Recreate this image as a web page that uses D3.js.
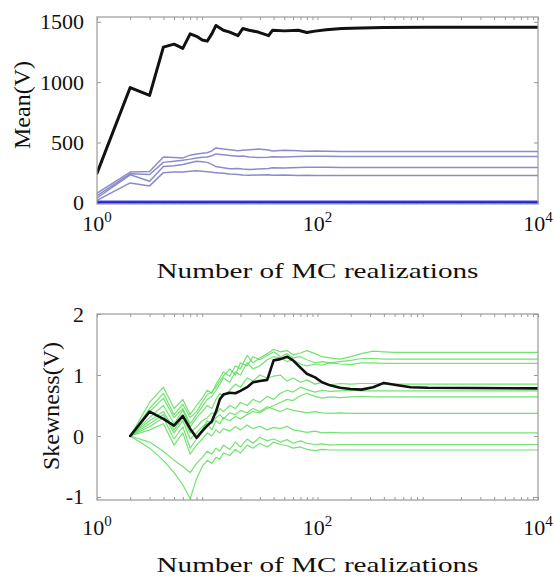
<!DOCTYPE html>
<html><head><meta charset="utf-8">
<script src="https://cdn.jsdelivr.net/npm/d3@7"></script>
<style>
body{margin:0;background:#fff}
svg{display:block}
text{font-family:"Liberation Serif","Times New Roman",serif;fill:#111}
</style>
</head><body>
<svg id="c" width="555" height="578"></svg>
<script>
// ---------- Top panel: Mean(V) ----------
const meanN = [1,2,3,4,5,6,7,8,9,10,11,12,14,16,19,21,24,29,36,39,50,67,80,95,120,166,250,400,1000,3000,10000];
const meanBlack = [245,955,890,1290,1315,1280,1400,1380,1350,1340,1400,1470,1430,1415,1385,1445,1430,1415,1385,1430,1425,1430,1412,1423,1435,1445,1448,1452,1455,1455,1455];
const meanP1 = [80,255,260,380,375,372,395,405,410,415,430,455,445,440,432,435,440,445,438,430,435,432,428,430,428,425,425,425,425,425,425];
const meanP2 = [60,240,235,335,345,352,362,372,378,380,390,405,398,392,385,388,380,376,378,382,380,384,385,386,385,384,384,384,384,384,384];
const meanP3 = [40,232,178,300,308,318,332,345,340,335,318,300,290,282,285,280,275,280,285,290,288,292,294,295,294,293,293,293,293,293,293];
const meanP4 = [20,165,140,250,255,256,262,266,262,258,254,250,244,238,235,230,228,230,232,228,230,226,228,227,226,226,226,226,226,226,226];
const meanB1 = [6,6,6,7,7,7,7,7,7,7,7,7,7,7,7,7,7,7,7,7,7,7,7,7,7,7,7,7,7,7,7];
const meanB2 = [10,10,10,10,10,10,10,10,10,10,10,10,10,10,10,10,10,10,10,10,10,10,10,10,10,10,10,10,10,10,10];
const meanB3 = [3,3,3,3,3,3,3,3,3,3,3,3,3,3,3,3,3,3,3,3,3,3,3,3,3,3,3,3,3,3,3];
const meanTicks = [0,500,1000,1500];

// ---------- Bottom panel: Skewness(V) ----------
const skewN = [2,3,4,5,6,7,8,9,10,11,12,13,14,16,18,20,23,26,30,35,40,46,53,60,70,80,95,110,130,160,200,250,320,400,500,700,1000,10000];
const skewBlack = [0,0.40,0.28,0.17,0.33,0.12,-0.03,0.08,0.17,0.24,0.40,0.60,0.68,0.71,0.70,0.74,0.80,0.88,0.90,0.92,1.24,1.26,1.30,1.24,1.12,1.02,0.96,0.88,0.83,0.79,0.77,0.76,0.80,0.87,0.84,0.80,0.79,0.78];
const skewG1 = [0,0.55,0.80,0.45,0.60,0.35,0.50,0.62,0.75,0.70,0.85,0.95,1.05,0.98,1.15,1.10,1.32,1.20,1.28,1.35,1.42,1.38,1.40,1.33,1.36,1.40,1.35,1.30,1.28,1.26,1.30,1.35,1.39,1.38,1.37,1.37,1.37,1.37];
const skewG2 = [0,0.45,0.70,0.35,0.52,0.30,0.40,0.55,0.68,0.72,0.80,0.90,0.98,1.10,1.00,1.20,1.15,1.30,1.25,1.32,1.38,1.30,1.35,1.28,1.30,1.25,1.20,1.22,1.20,1.22,1.24,1.27,1.27,1.26,1.26,1.26,1.26,1.26];
const skewG3 = [0,0.40,0.62,0.30,0.45,0.20,0.35,0.48,0.60,0.65,0.75,0.85,0.95,0.88,1.05,1.00,1.20,1.10,1.15,1.25,1.30,1.28,1.22,1.25,1.18,1.15,1.18,1.16,1.20,1.18,1.17,1.20,1.20,1.19,1.19,1.19,1.19,1.19];
const skewG4 = [0,0.30,0.50,0.20,0.42,0.15,0.30,0.40,0.50,0.45,0.60,0.70,0.65,0.75,0.85,0.80,0.95,0.90,1.00,0.95,0.98,1.00,0.90,0.95,0.88,0.92,0.85,0.88,0.84,0.86,0.85,0.86,0.86,0.85,0.85,0.85,0.85,0.85];
const skewG5 = [0,0.25,0.40,0.10,0.30,0.05,0.15,0.25,0.30,0.38,0.35,0.45,0.40,0.50,0.45,0.55,0.50,0.60,0.55,0.65,0.60,0.70,0.75,0.72,0.80,0.76,0.72,0.75,0.73,0.74,0.75,0.74,0.74,0.74,0.74,0.74,0.74,0.74];
const skewG6 = [0,0.20,0.35,0.05,0.25,-0.05,0.05,0.15,0.20,0.10,0.25,0.20,0.30,0.25,0.32,0.28,0.35,0.40,0.38,0.45,0.50,0.55,0.60,0.58,0.66,0.70,0.65,0.62,0.64,0.63,0.64,0.65,0.64,0.64,0.64,0.64,0.64,0.64];
const skewG7 = [0,0.15,0.30,-0.05,0.15,-0.20,-0.05,0.10,0.25,0.20,0.30,0.35,0.28,0.38,0.35,0.42,0.38,0.45,0.40,0.48,0.44,0.40,0.45,0.42,0.40,0.38,0.40,0.38,0.37,0.38,0.37,0.37,0.37,0.37,0.37,0.37,0.37,0.37];
const skewG8 = [0,0.10,0.20,-0.15,0.05,-0.30,-0.15,-0.05,0.05,0.00,0.10,0.05,0.12,0.08,0.15,0.10,0.18,0.12,0.16,0.10,0.14,0.12,0.16,0.10,0.08,0.06,0.08,0.05,0.06,0.05,0.05,0.05,0.05,0.05,0.05,0.05,0.05,0.05];
const skewG9 = [0,-0.10,-0.25,-0.40,-0.50,-0.60,-0.45,-0.35,-0.25,-0.30,-0.20,-0.25,-0.15,-0.22,-0.10,-0.18,-0.05,-0.12,-0.02,-0.08,-0.05,-0.10,-0.06,-0.12,-0.08,-0.12,-0.14,-0.13,-0.15,-0.14,-0.14,-0.14,-0.14,-0.14,-0.14,-0.14,-0.14,-0.14];
const skewG10 = [0,-0.20,-0.40,-0.60,-0.80,-1.03,-0.70,-0.50,-0.40,-0.45,-0.35,-0.38,-0.28,-0.32,-0.22,-0.28,-0.15,-0.20,-0.12,-0.18,-0.10,-0.14,-0.16,-0.20,-0.18,-0.22,-0.24,-0.22,-0.23,-0.23,-0.23,-0.23,-0.23,-0.23,-0.23,-0.23,-0.23,-0.23];
const skewTicks = [-1,0,1,2];

const xTickValues = [1,100,10000];
const xTickExp = ["0","2","4"];
const xLabel = "Number of MC realizations";
const yLabelTop = "Mean(V)";
const yLabelBottom = "Skewness(V)";

// ---------- drawing ----------
const svg = d3.select("#c");
const L = 97, R = 538;
const frameCol = "#9a9a9a";

function panel(o){
  const x = d3.scaleLog().domain([1,10000]).range([L,R]);
  const y = d3.scaleLinear().domain(o.yDomain).range([o.bottom,o.top]);
  const g = svg.append("g");

  const minor = [];
  for (let e=0;e<4;e++) for (let k=2;k<=9;k++) minor.push(k*Math.pow(10,e));
  const ax1 = g.append("g").attr("transform",`translate(0,${o.bottom})`)
    .call(d3.axisBottom(x).tickValues(minor.concat(xTickValues)).tickSizeInner(-3).tickSizeOuter(0).tickFormat(""));
  const ax2 = g.append("g").attr("transform",`translate(0,${o.top})`)
    .call(d3.axisTop(x).tickValues(minor.concat(xTickValues)).tickSizeInner(-3).tickSizeOuter(0).tickFormat(""));
  const ay1 = g.append("g").attr("transform",`translate(${L},0)`)
    .call(d3.axisLeft(y).tickValues(o.ticks).tickSizeInner(-4).tickSizeOuter(0).tickPadding(13).tickFormat(d3.format("d")));
  const ay2 = g.append("g").attr("transform",`translate(${R},0)`)
    .call(d3.axisRight(y).tickValues(o.ticks).tickSizeInner(-4).tickSizeOuter(0).tickFormat(""));
  [ax1,ax2,ay1,ay2].forEach(a=>{
    a.select(".domain").remove();
    a.selectAll("line").attr("stroke",frameCol).attr("stroke-width",1);
  });
  ay1.selectAll("text").attr("font-size",22).attr("font-family",'"Liberation Serif",serif').attr("fill","#111")
     .text(d=>d<0?"-"+Math.abs(d):d);

  const cid = "clip"+o.id;
  svg.append("clipPath").attr("id",cid).append("rect")
    .attr("x",L).attr("y",o.top).attr("width",R-L).attr("height",o.bottom-o.top);
  const lg = g.append("g").attr("clip-path",`url(#${cid})`);
  const line = d3.line().x((d,i)=>x(o.n[i])).y(d=>y(d));
  o.series.forEach(s=>{
    lg.append("path").attr("d",line(s.v)).attr("fill","none")
      .attr("stroke",s.c).attr("stroke-width",s.w).attr("stroke-opacity",s.op||1)
      .attr("stroke-linejoin","round").attr("stroke-linecap","round");
  });

  g.append("rect").attr("x",L).attr("y",o.top).attr("width",R-L).attr("height",o.bottom-o.top)
    .attr("fill","none").attr("stroke",frameCol).attr("stroke-width",1.2);

  xTickValues.forEach((v,i)=>{
    const t = g.append("text").attr("x",x(v)).attr("y",o.xTickY).attr("text-anchor","middle").attr("font-size",22);
    t.append("tspan").text("10");
    t.append("tspan").attr("font-size",15).attr("dy",-9).text(xTickExp[i]);
  });
  g.append("text").attr("x",(L+R)/2).attr("y",o.xLabelY).attr("text-anchor","middle")
    .attr("font-size",22).attr("textLength",322).attr("lengthAdjust","spacingAndGlyphs").text(xLabel);
  g.append("text").attr("transform",`translate(${o.yLabelX},${o.yLabelCY}) rotate(-90)`)
    .attr("text-anchor","middle").attr("font-size",24).text(o.yLabel);
}

panel({
  id:"top", top:17, bottom:204, yDomain:[-10,1540], ticks:meanTicks, n:meanN,
  xTickY:231, xLabelY:278, yLabelX:30, yLabelCY:105, yLabel:yLabelTop,
  series:[
    {v:meanP1,c:"#8080c4",w:1.5,op:0.9},
    {v:meanP2,c:"#8080c4",w:1.5,op:0.9},
    {v:meanP3,c:"#8080c4",w:1.5,op:0.9},
    {v:meanP4,c:"#8080c4",w:1.5,op:0.9},
    {v:meanB3,c:"#2020c8",w:2},
    {v:meanB1,c:"#1a1ad0",w:2.5},
    {v:meanB2,c:"#3a3ad8",w:1.5},
    {v:meanBlack,c:"#111",w:3}
  ]
});
panel({
  id:"bot", top:314, bottom:500, yDomain:[-1.05,2], ticks:skewTicks, n:skewN,
  xTickY:535, xLabelY:572, yLabelX:59, yLabelCY:406, yLabel:yLabelBottom,
  series:[skewG1,skewG2,skewG3,skewG4,skewG5,skewG6,skewG7,skewG8,skewG9,skewG10]
    .map(v=>({v,c:"#4fdc4f",w:1.2,op:0.8}))
    .concat([{v:skewBlack,c:"#111",w:2.6}])
});
</script>
</body></html>
